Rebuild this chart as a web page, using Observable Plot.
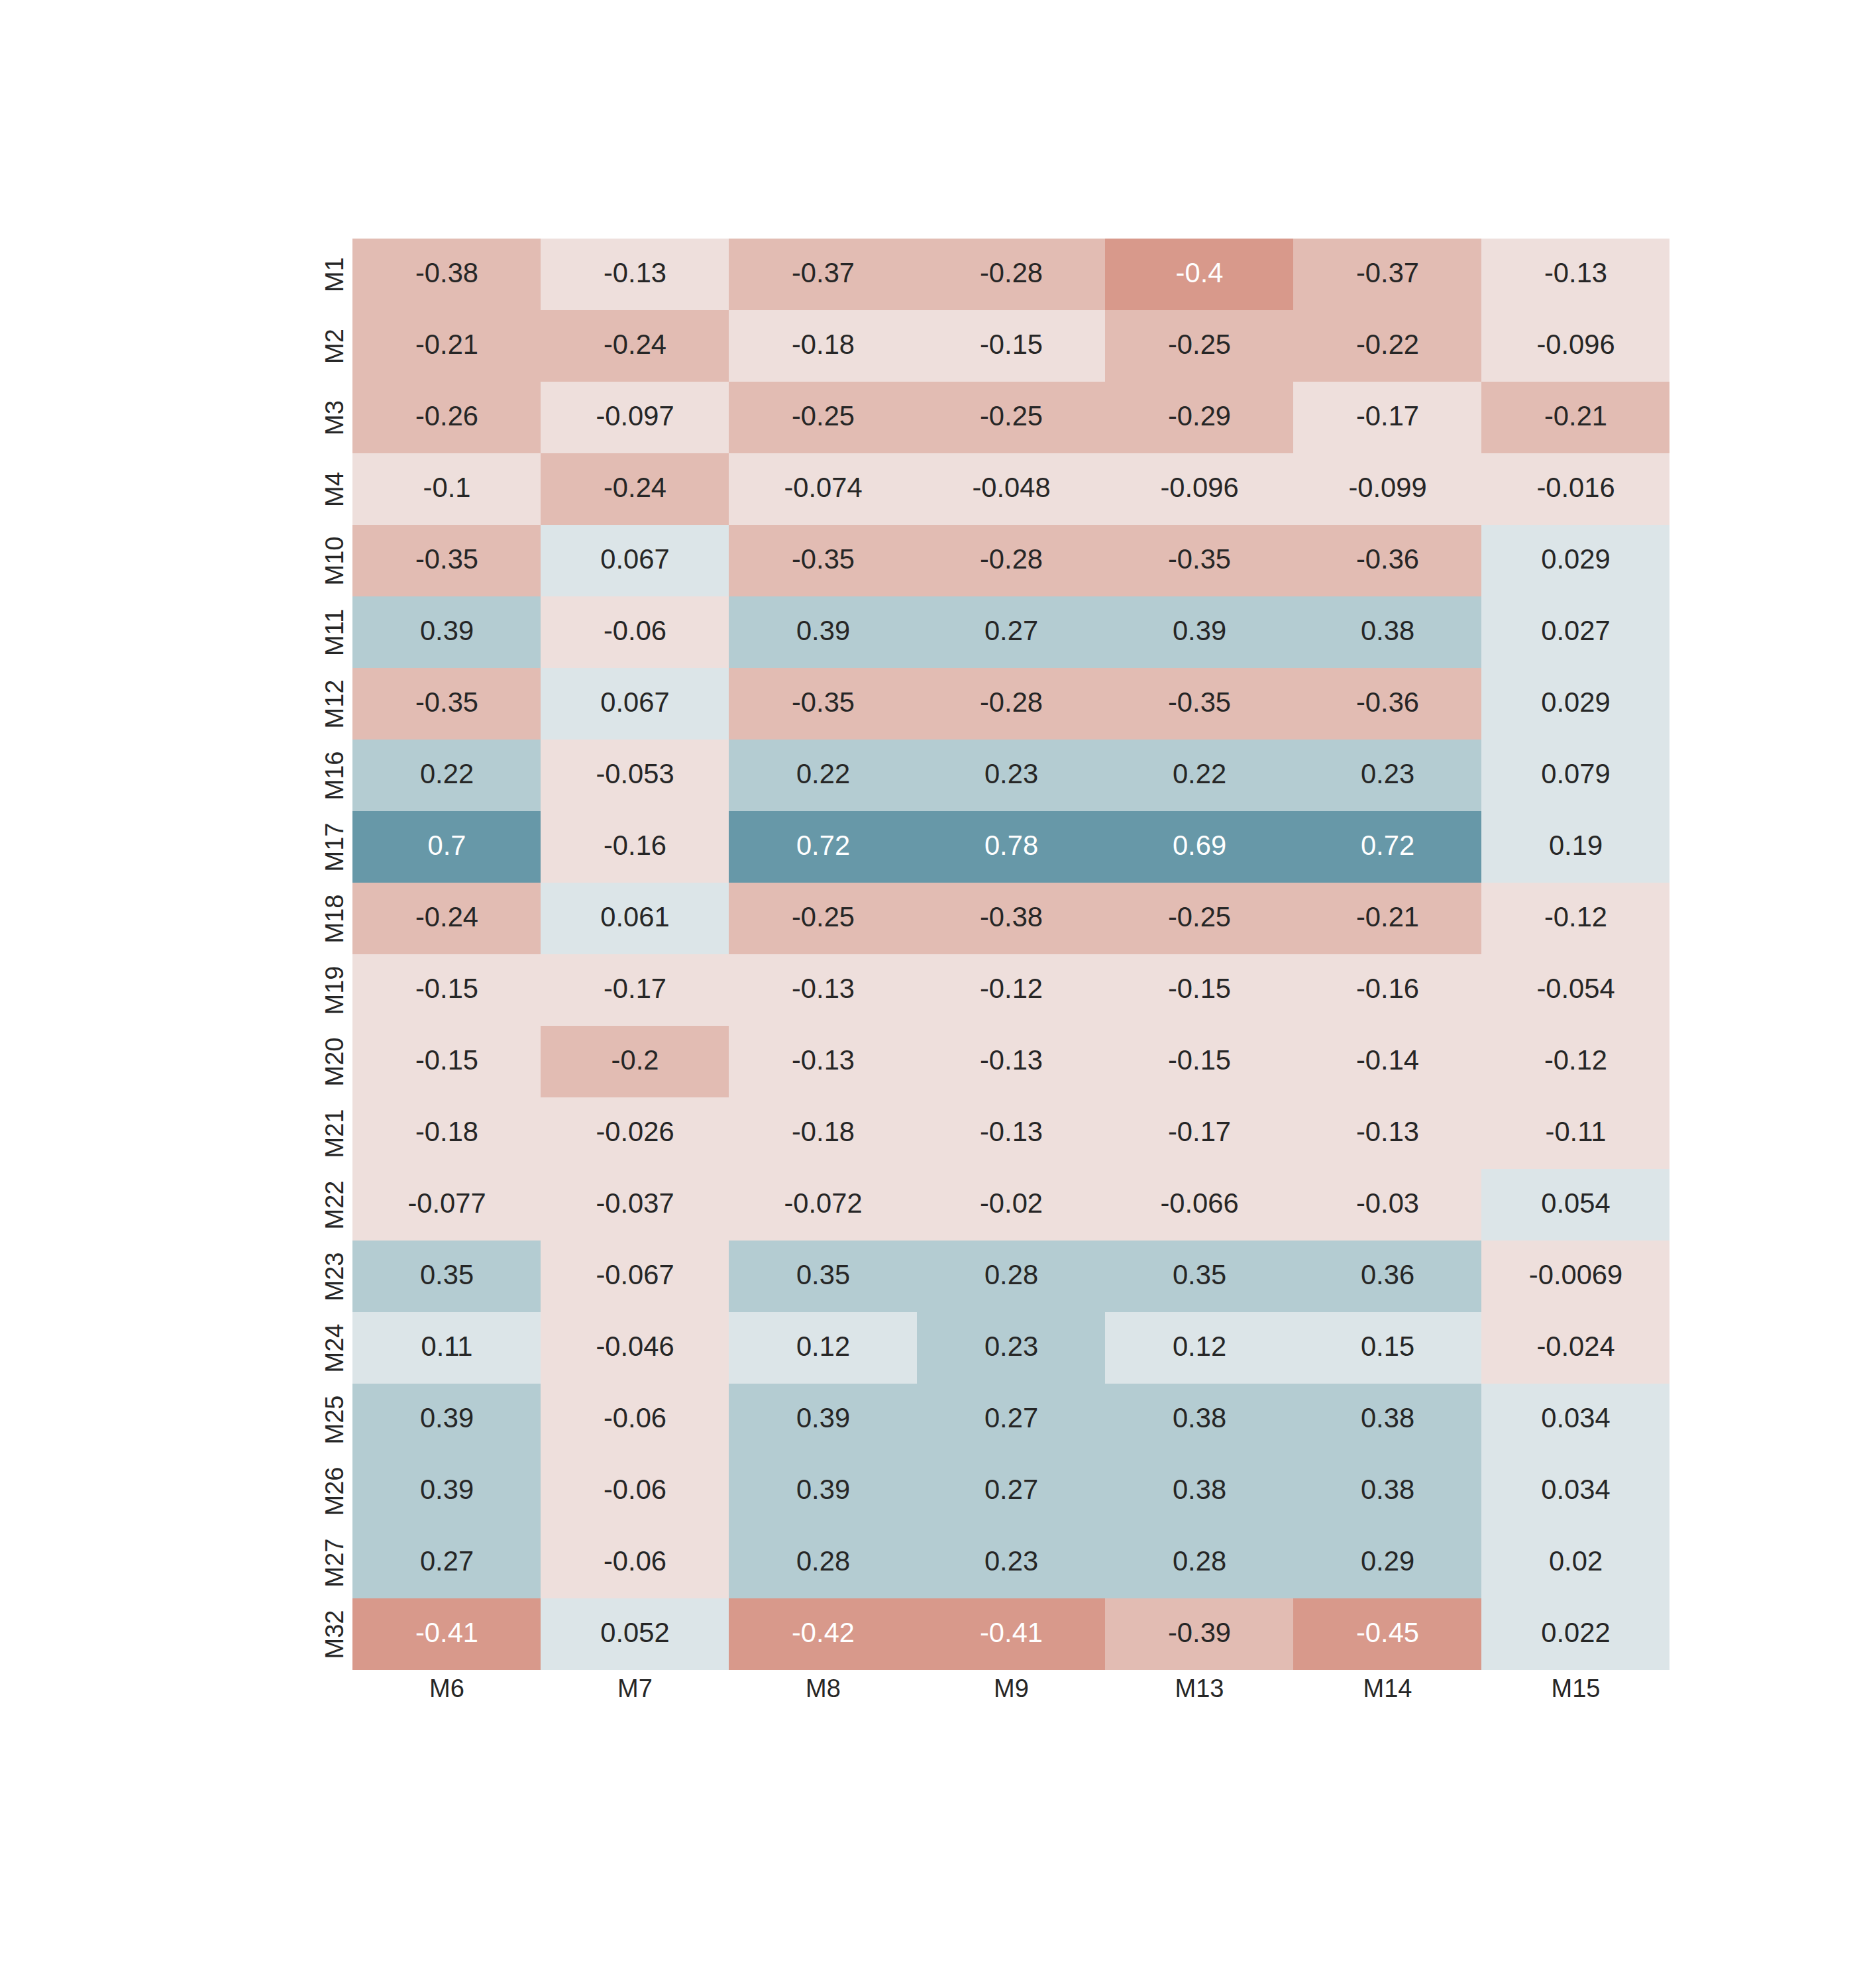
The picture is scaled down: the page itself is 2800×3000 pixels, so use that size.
<!DOCTYPE html>
<html>
<head>
<meta charset="utf-8">
<script src="https://cdn.jsdelivr.net/npm/d3@7"></script>
<script src="https://cdn.jsdelivr.net/npm/@observablehq/plot@0.6"></script>
<style>
  body { margin: 0; background: white; }
</style>
</head>
<body>
<div id="chart"></div>
<script>
const rows = ["M1", "M2", "M3", "M4", "M10", "M11", "M12", "M16", "M17", "M18",
  "M19", "M20", "M21", "M22", "M23", "M24", "M25", "M26", "M27", "M32"];
const cols = ["M6", "M7", "M8", "M9", "M13", "M14", "M15"];

// one array per row, values in column order M6 .. M15
const M1 = [-0.38, -0.13, -0.37, -0.28, -0.4, -0.37, -0.13];
const M2 = [-0.21, -0.24, -0.18, -0.15, -0.25, -0.22, -0.096];
const M3 = [-0.26, -0.097, -0.25, -0.25, -0.29, -0.17, -0.21];
const M4 = [-0.1, -0.24, -0.074, -0.048, -0.096, -0.099, -0.016];
const M10 = [-0.35, 0.067, -0.35, -0.28, -0.35, -0.36, 0.029];
const M11 = [0.39, -0.06, 0.39, 0.27, 0.39, 0.38, 0.027];
const M12 = [-0.35, 0.067, -0.35, -0.28, -0.35, -0.36, 0.029];
const M16 = [0.22, -0.053, 0.22, 0.23, 0.22, 0.23, 0.079];
const M17 = [0.7, -0.16, 0.72, 0.78, 0.69, 0.72, 0.19];
const M18 = [-0.24, 0.061, -0.25, -0.38, -0.25, -0.21, -0.12];
const M19 = [-0.15, -0.17, -0.13, -0.12, -0.15, -0.16, -0.054];
const M20 = [-0.15, -0.2, -0.13, -0.13, -0.15, -0.14, -0.12];
const M21 = [-0.18, -0.026, -0.18, -0.13, -0.17, -0.13, -0.11];
const M22 = [-0.077, -0.037, -0.072, -0.02, -0.066, -0.03, 0.054];
const M23 = [0.35, -0.067, 0.35, 0.28, 0.35, 0.36, -0.0069];
const M24 = [0.11, -0.046, 0.12, 0.23, 0.12, 0.15, -0.024];
const M25 = [0.39, -0.06, 0.39, 0.27, 0.38, 0.38, 0.034];
const M26 = [0.39, -0.06, 0.39, 0.27, 0.38, 0.38, 0.034];
const M27 = [0.27, -0.06, 0.28, 0.23, 0.28, 0.29, 0.02];
const M32 = [-0.41, 0.052, -0.42, -0.41, -0.39, -0.45, 0.022];

const values = [M1, M2, M3, M4, M10, M11, M12, M16, M17, M18,
  M19, M20, M21, M22, M23, M24, M25, M26, M27, M32];

const cells = rows.flatMap((r, i) => cols.map((c, j) => ({row: r, col: c, v: values[i][j]})));

// binned diverging palette
const bins = [-0.395, -0.195, 0, 0.2, 0.4];
const palette = ["#d8998b", "#e2bcb3", "#eedfdc", "#dce5e8", "#b4ccd2", "#6798a8"];
const dark = d => d.v <= bins[0] || d.v >= bins[4];
const fmt = v => String(+v.toPrecision(2));

let chart = Plot.plot({
  width: 2800,
  height: 3000,
  marginLeft: 532,
  marginRight: 280,
  marginTop: 360,
  marginBottom: 480,
  x: {domain: cols, padding: 0, axis: null},
  y: {domain: rows, padding: 0, axis: null},
  color: {type: "threshold", domain: bins, range: palette},
  style: {fontFamily: "'Liberation Sans', Arial, sans-serif", color: "#262626", background: "white"},
  marks: [
    Plot.cell(cells, {x: "col", y: "row", fill: "v", inset: 0}),
    Plot.text(cells, {filter: d => !dark(d), x: "col", y: "row", text: d => fmt(d.v), fill: "#262626", fontSize: 41.7, dy: -2}),
    Plot.text(cells, {filter: dark, x: "col", y: "row", text: d => fmt(d.v), fill: "white", fontSize: 41.7, dy: -2}),
    Plot.axisX({anchor: "bottom", tickSize: 0, tickPadding: 14, fontSize: 38, label: null}),
    Plot.axisY({anchor: "left", tickSize: 0, tickPadding: 15, tickRotate: -90, fontSize: 38, label: null}),
  ],
});
d3.select("#chart").append(() => chart);
</script>
</body>
</html>
